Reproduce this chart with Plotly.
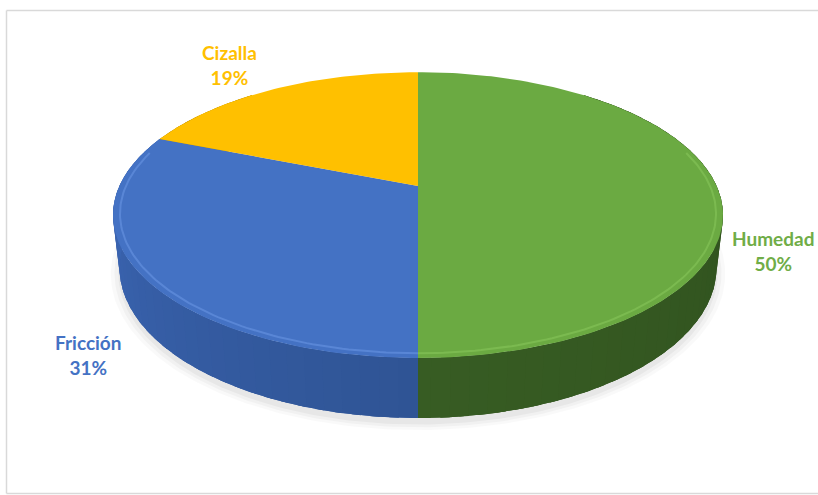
import math
import plotly.graph_objects as go

# ---- data ----
labels = ["Humedad", "Fricción", "Cizalla"]
values = [50, 31, 19]
top_colors = ["#6BAA42", "#4472C4", "#FFC000"]
# side shading: (colour at slice start, colour at slice end)
side_colors = [("#2A481A", "#375C23"), ("#2F5494", "#3E69BA"), ("#BF9000", "#D9A400")]
rim_colors = ["#8CCB5E", "#6F9BE8", "#FFD34D"]
label_colors = ["#70AD47", "#4472C4", "#FFC000"]

# ---- projection parameters (style / geometry) ----
W, H = 818, 495
CX, CY = 418, 186          # apex of the pie on screen (pixels)
F = 1304.0                 # focal scale
R = 0.229                  # radius / camera distance
ALPHA = math.radians(27.3) # tilt
T = 0.0455                 # thickness / camera distance


def proj(phi_deg, h=0.0, rr=R):
    p = math.radians(phi_deg)
    X = rr * math.sin(p)
    Z = rr * math.cos(p)
    yup = Z * math.sin(ALPHA) + h * math.cos(ALPHA)
    depth = 1 + Z * math.cos(ALPHA) - h * math.sin(ALPHA)
    return CX + F * X / depth, CY - F * yup / depth


def arc(a0, a1, h=0.0, rr=R, n=None):
    if n is None:
        n = max(2, int(abs(a1 - a0) / 1.0) + 1)
    xs, ys = [], []
    for i in range(n):
        a = a0 + (a1 - a0) * i / (n - 1)
        x, y = proj(a, h, rr)
        xs.append(x)
        ys.append(y)
    return xs, ys


def hex2rgb(c):
    c = c.lstrip("#")
    return tuple(int(c[i:i + 2], 16) for i in (0, 2, 4))


def mix(c0, c1, f):
    a, b = hex2rgb(c0), hex2rgb(c1)
    return "rgb(%d,%d,%d)" % tuple(round(a[i] + (b[i] - a[i]) * f) for i in range(3))


total = sum(values)
bounds = []
acc = 0.0
for v in values:
    a0 = acc / total * 360.0
    acc += v
    a1 = acc / total * 360.0
    bounds.append((a0, a1))

fig = go.Figure()


def add_poly(xs, ys, color):
    fig.add_trace(go.Scatter(x=xs + [xs[0]], y=ys + [ys[0]], fill="toself", mode="lines",
                             line=dict(width=0), fillcolor=color,
                             hoverinfo="skip", showlegend=False))


# soft shadow under the pie
for k, op in [(1.03, 0.025), (1.018, 0.03), (1.006, 0.04)]:
    xs, ys = arc(0, 360, -T - 0.004, R * k)
    add_poly(xs, ys, f"rgba(0,0,0,{op})")

# side walls (front part): solid base + shaded strips on top
VIS0, VIS1 = 40.0, 320.0
STEP = 3.0
for (a0, a1), (c0, c1) in zip(bounds, side_colors):
    s0, s1 = max(a0, VIS0), min(a1, VIS1)
    if s1 <= s0:
        continue
    tx, ty = arc(s0, s1, 0.0)
    bx, by = arc(s1, s0, -T)
    add_poly(tx + bx, ty + by, mix(c0, c1, 0.5))
    a = s0
    while a < s1 - 1e-9:
        b = min(a + STEP, s1)
        f = ((a + b) / 2 - a0) / (a1 - a0)
        e = min(b + 1.5, s1)
        tx, ty = arc(a, e, 0.0, n=5)
        bx, by = arc(e, a, -T, n=5)
        add_poly(tx + bx, ty + by, mix(c0, c1, f))
        a = b

# top faces
for (a0, a1), tc, lab, v in zip(bounds, top_colors, labels, values):
    xs, ys = arc(a0, a1, 0.0)
    fig.add_trace(go.Scatter(x=[CX] + xs + [CX], y=[CY] + ys + [CY],
                             fill="toself", mode="lines", line=dict(width=0),
                             fillcolor=tc, name=lab,
                             hovertemplate=f"{lab}: {v}%<extra></extra>",
                             showlegend=False))

# bevel highlight along the front rim
for (a0, a1), rc in zip(bounds, rim_colors):
    s0, s1 = max(a0, 75.0), min(a1, 285.0)
    if s1 <= s0:
        continue
    xs, ys = arc(s0, s1, 0.0, R * 0.978)
    fig.add_trace(go.Scatter(x=xs, y=ys, mode="lines",
                             line=dict(width=2, color=rc), opacity=0.5,
                             hoverinfo="skip", showlegend=False))

# data labels
label_pos = {"Humedad": (773, 251), "Fricción": (88, 355), "Cizalla": (229, 65)}
for lab, v, lc in zip(labels, values, label_colors):
    x, y = label_pos[lab]
    fig.add_annotation(x=x, y=y, xref="x", yref="y",
                       text=f"<b>{lab}</b><br><b>{v}%</b>", showarrow=False,
                       font=dict(family="Lato, Open Sans, sans-serif", size=19, color=lc),
                       align="center", xanchor="center", yanchor="middle")

# chart frame (right edge lies outside the picture)
frame = dict(color="#D9D9D9", width=1.5)
fig.add_shape(type="line", x0=6.5, y0=10.5, x1=W, y1=10.5, xref="x", yref="y", line=frame, layer="below")
fig.add_shape(type="line", x0=6.5, y0=10.5, x1=6.5, y1=493.5, xref="x", yref="y", line=frame, layer="below")
fig.add_shape(type="line", x0=6.5, y0=493.5, x1=W, y1=493.5, xref="x", yref="y", line=frame, layer="below")

fig.update_layout(
    width=W, height=H,
    margin=dict(l=0, r=0, t=0, b=0),
    paper_bgcolor="white", plot_bgcolor="white",
    xaxis=dict(range=[0, W], visible=False, fixedrange=True),
    yaxis=dict(range=[H, 0], visible=False, fixedrange=True),
    showlegend=False,
)

fig.write_html("out.html")
